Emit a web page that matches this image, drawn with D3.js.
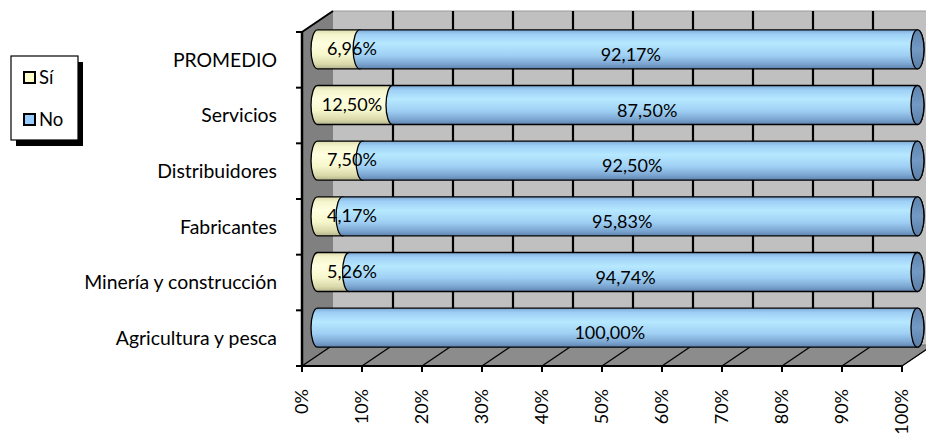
<!DOCTYPE html>
<html>
<head>
<meta charset="utf-8">
<script src="https://cdn.jsdelivr.net/npm/d3@7"></script>
<style>
html,body{margin:0;padding:0;background:#fff;}
svg{display:block;}
text{font-family:Lato,"Open Sans",sans-serif;fill:#000;}
</style>
</head>
<body>
<svg id="chart" width="926" height="434"></svg>
<script>
// ---- data ----
const categories = ["Agricultura y pesca","Minería y construcción","Fabricantes","Distribuidores","Servicios","PROMEDIO"];
const siValues = [0, 5.26, 4.17, 7.50, 12.50, 6.96];
const noValues = [100, 94.74, 95.83, 92.50, 87.50, 92.17];
const seriesNames = ["Sí","No"];
const xTickValues = [0,0.1,0.2,0.3,0.4,0.5,0.6,0.7,0.8,0.9,1.0];

// ---- layout ----
const svg = d3.select("#chart");
const W = 926, H = 434;
const dx = 31, dy = -21;
const x = d3.scaleLinear().domain([0,1]).range([302, 902]);
const y = d3.scaleBand().domain(categories.slice().reverse()).range([32, 366]).paddingInner(0).paddingOuter(0);
const bw = y.bandwidth();
const x0 = x(0), yTop = 32, yBot = 366;

const loc = d3.formatLocale({decimal:",", thousands:".", grouping:[3], currency:["","€"]});
const fmt = v => loc.format(".2f")(v) + "%";

const defs = svg.append("defs");
function grad(id, stops){
  const g = defs.append("linearGradient").attr("id", id).attr("x1",0).attr("y1",0).attr("x2",0).attr("y2",1);
  stops.forEach(s => g.append("stop").attr("offset", s[0]).attr("stop-color", s[1]));
}
grad("gNo", [[0,"#7faad6"],[0.12,"#9fd0f6"],[0.35,"#b6e8ff"],[0.65,"#9fd0f4"],[0.88,"#7aa4cf"],[1,"#5d83ad"]]);
grad("gSi", [[0,"#dcdcae"],[0.12,"#f4f4cc"],[0.35,"#ffffe0"],[0.65,"#f6f6cc"],[0.88,"#d8d8aa"],[1,"#b4b48c"]]);
grad("gCap", [[0,"#5e84ad"],[0.5,"#7499c2"],[1,"#5a7ea6"]]);

// back wall
svg.append("rect").attr("x", x0+dx).attr("y", yTop+dy).attr("width", x(1)-x0+2).attr("height", yBot-yTop).attr("fill","#c0c0c0");
svg.append("line").attr("x1",x0+dx).attr("x2",W).attr("y1",yTop+dy).attr("y2",yTop+dy).attr("stroke","#9a9a9a").attr("stroke-width",1);
// left wall
svg.append("path").attr("d", `M${x0},${yTop} L${x0+dx},${yTop+dy} L${x0+dx},${yBot+dy} L${x0},${yBot} Z`).attr("fill","#808080");
// floor
svg.append("path").attr("d", `M${x0},${yBot} L${x0+dx},${yBot+dy} L${x(1)+dx},${yBot+dy} L${x(1)},${yBot} Z`).attr("fill","#8c8c8c").attr("stroke","#6a6a6a").attr("stroke-width",1);

// back wall gridlines
svg.append("g").selectAll("line").data(xTickValues.slice(1)).join("line")
  .attr("x1", d => x(d)+dx).attr("x2", d => x(d)+dx)
  .attr("y1", yTop+dy).attr("y2", yBot+dy)
  .attr("stroke","#000").attr("stroke-width",2.2);
// floor gridlines
svg.append("g").selectAll("line").data(xTickValues).join("line")
  .attr("x1", d => x(d)).attr("x2", d => x(d)+dx)
  .attr("y1", yBot).attr("y2", yBot+dy)
  .attr("stroke","#000").attr("stroke-width",1.3);

// axes lines
svg.append("line").attr("x1",x0).attr("x2",x0+dx).attr("y1",yTop).attr("y2",yTop+dy).attr("stroke","#000").attr("stroke-width",2);
svg.append("line").attr("x1",x0).attr("x2",x0).attr("y1",yTop).attr("y2",yBot).attr("stroke","#000").attr("stroke-width",2.5);
svg.append("line").attr("x1",x0).attr("x2",x(1)).attr("y1",yBot).attr("y2",yBot).attr("stroke","#000").attr("stroke-width",2);
// category ticks
const bounds = y.domain().map(c => y(c)).concat([yBot]);
svg.append("g").selectAll("line").data(bounds).join("line")
  .attr("x1", x0-6).attr("x2", x0).attr("y1", d=>d).attr("y2", d=>d)
  .attr("stroke","#000").attr("stroke-width",2);
// x ticks
svg.append("g").selectAll("line").data(xTickValues).join("line")
  .attr("x1", d=>x(d)).attr("x2", d=>x(d)).attr("y1", yBot).attr("y2", yBot+6)
  .attr("stroke","#000").attr("stroke-width",2);
// x tick labels
svg.append("g").selectAll("text").data(xTickValues).join("text")
  .attr("transform", d => `translate(${x(d)},${389}) rotate(-90)`)
  .attr("text-anchor","end").attr("dy","0.36em")
  .style("font-size","18px")
  .text(d => Math.round(d*100) + "%");
// category labels
svg.append("g").selectAll("text").data(categories).join("text")
  .attr("x", 277).attr("y", d => y(d)+bw/2).attr("dy","0.35em")
  .attr("text-anchor","end").style("font-size","19.4px")
  .text(d => d);

// bars (cylinders)
const ry = bw*0.35, rx = 6.5;
function segPath(xa, xb, cy){
  return `M${xa},${cy-ry} L${xb},${cy-ry} A${rx},${ry} 0 0 1 ${xb},${cy+ry} L${xa},${cy+ry} A${rx},${ry} 0 0 1 ${xa},${cy-ry} Z`;
}
const rows = categories.map((c,i) => {
  const tot = siValues[i] + noValues[i];
  return {cat:c, si:siValues[i], no:noValues[i], siN: siValues[i]/tot, noN: noValues[i]/tot};
});
const gBars = svg.append("g");
rows.forEach(r => {
  const cy = y(r.cat) + bw/2 + dy/2;
  const xs = v => x(v) + dx/2;
  if (r.si > 0) {
    gBars.append("path").attr("d", segPath(xs(0), xs(r.siN), cy)).attr("fill","url(#gSi)").attr("stroke","#000").attr("stroke-width",1.3);
  }
  gBars.append("path").attr("d", segPath(xs(r.siN), xs(1), cy)).attr("fill","url(#gNo)").attr("stroke","#000").attr("stroke-width",1.3);
  gBars.append("ellipse").attr("cx", xs(1)).attr("cy", cy).attr("rx", rx).attr("ry", ry).attr("fill","url(#gCap)").attr("stroke","#000").attr("stroke-width",1.3);
});
// data labels
const gLab = svg.append("g").style("font-size","18px").attr("text-anchor","middle");
rows.forEach(r => {
  const cyL = y(r.cat) + bw/2 + dy/4;
  if (r.si > 0) {
    const xm = Math.max(x(r.siN/2) + dx/4, x0 + 50);
    gLab.append("text").attr("x", xm).attr("y", cyL - 6).attr("dy","0.35em").text(fmt(r.si));
  }
  gLab.append("text").attr("x", x(r.siN + r.noN/2) + dx/4).attr("y", cyL).attr("dy","0.35em").text(fmt(r.no));
});

// legend
const lg = svg.append("g");
lg.append("rect").attr("x",16).attr("y",62).attr("width",67).attr("height",84).attr("fill","#000");
lg.append("rect").attr("x",11).attr("y",56).attr("width",67).attr("height",84).attr("fill","#fff").attr("stroke","#000").attr("stroke-width",1.2);
const legColors = ["#ffffcc","#99ccff"];
seriesNames.forEach((s,i) => {
  const cy = 78 + i*42;
  lg.append("rect").attr("x",24).attr("y",cy-6).attr("width",11).attr("height",11).attr("fill",legColors[i]).attr("stroke","#000").attr("stroke-width",2);
  lg.append("text").attr("x",39).attr("y",cy).attr("dy","0.35em").style("font-size","18.5px").text(s);
});
</script>
</body>
</html>
